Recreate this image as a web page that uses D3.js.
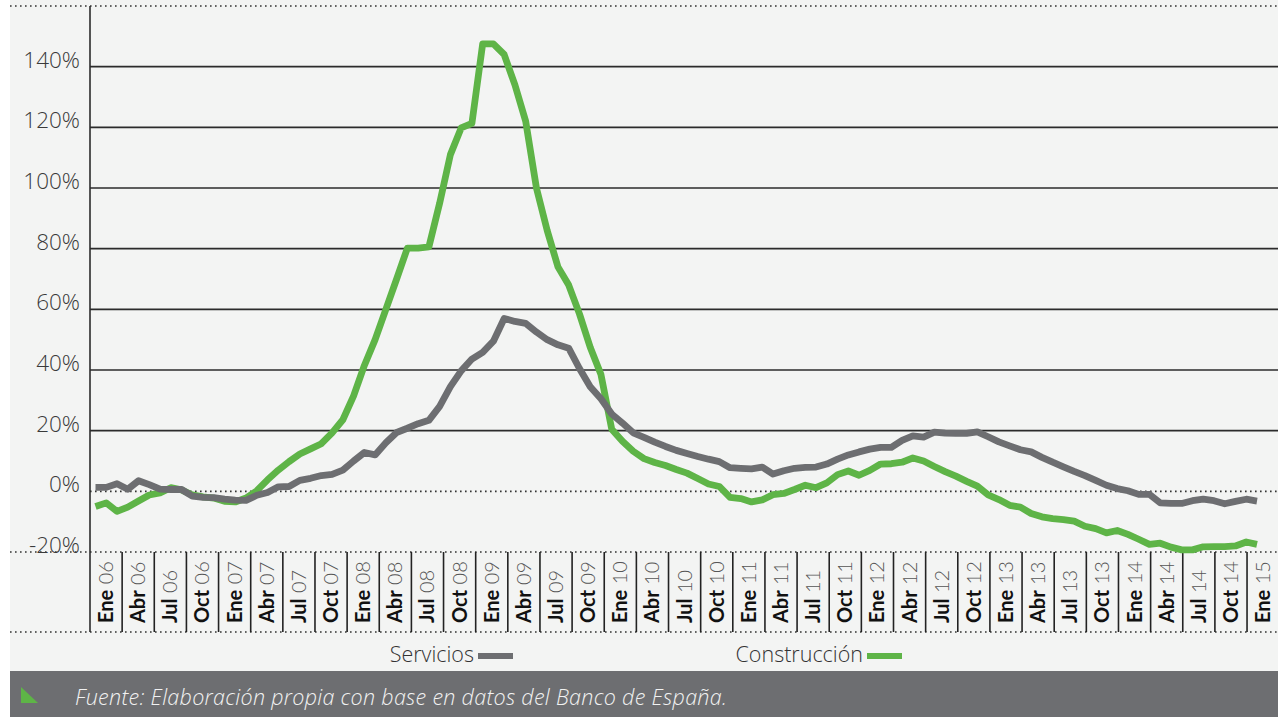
<!DOCTYPE html>
<html>
<head>
<meta charset="utf-8">
<script src="https://cdn.jsdelivr.net/npm/d3@7"></script>
<style>
  html, body { margin: 0; padding: 0; background: #ffffff; }
  svg { display: block; }
</style>
</head>
<body>
<div id="chart"></div>
<script>
// quarterly labels on the x axis
var tickLabels = [
  'Ene 06', 'Abr 06', 'Jul 06', 'Oct 06', 'Ene 07', 'Abr 07', 'Jul 07', 'Oct 07',
  'Ene 08', 'Abr 08', 'Jul 08', 'Oct 08', 'Ene 09', 'Abr 09', 'Jul 09', 'Oct 09',
  'Ene 10', 'Abr 10', 'Jul 10', 'Oct 10', 'Ene 11', 'Abr 11', 'Jul 11', 'Oct 11',
  'Ene 12', 'Abr 12', 'Jul 12', 'Oct 12', 'Ene 13', 'Abr 13', 'Jul 13', 'Oct 13',
  'Ene 14', 'Abr 14', 'Jul 14', 'Oct 14', 'Ene 15'
];

var yTicks = [-20, 0, 20, 40, 60, 80, 100, 120, 140];

// monthly values, Ene 06 .. Ene 15 (%)
var servicios = [
  1.3, 1.3, 2.5, 0.7, 3.5, 2.2, 0.7, 0.6, 0.6, -1.6, -2.0, -2.1,
  -2.6, -2.9, -3.0, -1.3, -0.4, 1.5, 1.6, 3.6, 4.3, 5.2, 5.6, 7.0,
  10.0, 12.8, 12.0, 16.0, 19.4, 20.8, 22.3, 23.4, 28.0, 34.5, 39.7, 43.6,
  45.8, 49.5, 57.0, 56.0, 55.4, 52.5, 50.0, 48.3, 47.2, 40.5, 34.5, 30.5,
  25.5, 22.5, 19.3, 17.8, 16.2, 14.8, 13.5, 12.5, 11.5, 10.6, 9.8, 7.8,
  7.6, 7.4, 8.0, 5.7, 6.8, 7.6, 7.9, 8.0, 9.0, 10.6, 12.0, 13.0,
  13.9, 14.5, 14.5, 16.8, 18.3, 17.9, 19.5, 19.2, 19.1, 19.1, 19.6, 18.0,
  16.3, 15.0, 13.7, 13.0, 11.2, 9.6, 8.1, 6.6, 5.2, 3.6, 2.0, 0.9,
  0.2, -1.0, -1.0, -3.8, -4.0, -4.0, -3.1, -2.6, -3.1, -4.1, -3.3, -2.6,
  -3.2
];

var construccion = [
  -5.0, -3.8, -6.6, -5.2, -3.2, -1.2, -0.5, 1.2, 0.5, -1.2, -1.8, -2.2,
  -3.3, -3.5, -2.2, 0.2, 3.8, 7.0, 9.8, 12.3, 14.0, 15.7, 19.3, 23.6,
  31.5, 41.5, 50.0, 60.0, 70.0, 80.2, 80.2, 80.6, 95.0, 111.0, 119.8, 121.3,
  147.5, 147.5, 144.0, 134.0, 122.0, 100.0, 86.0, 74.0, 68.0, 58.5, 47.5, 38.5,
  20.5, 16.5, 13.2, 10.8, 9.5, 8.5, 7.2, 6.0, 4.2, 2.4, 1.6, -2.0,
  -2.4, -3.5, -2.8, -1.1, -0.7, 0.6, 2.0, 1.2, 2.8, 5.5, 6.7, 5.3,
  6.9, 9.0, 9.1, 9.6, 11.0, 10.0, 8.2, 6.5, 5.0, 3.3, 1.7, -1.2,
  -2.7, -4.6, -5.2, -7.3, -8.4, -9.0, -9.3, -9.8, -11.5, -12.3, -13.7, -12.9,
  -14.2, -15.8, -17.5, -17.1, -18.4, -19.3, -19.3, -18.3, -18.2, -18.2, -18.0, -16.7,
  -17.5
];

var W = 1278, H = 717;
var gray = '#6d6e71', green = '#5eb447';
var plotLeft = 90, plotRight = 1278, panelLeft = 10;

var svg = d3.select('#chart').append('svg').attr('width', W).attr('height', H);

// background panel
svg.append('rect').attr('x', panelLeft).attr('y', 0).attr('width', W - panelLeft).attr('height', 671).attr('fill', '#f3f4f3');

var y = d3.scaleLinear().domain([-20, 160]).range([552, 6]);
var x = d3.scaleLinear().domain([0, 108]).range([95.5, 1257]);
var band = d3.scaleBand().domain(tickLabels).range([plotLeft, plotLeft + 37 * 32.14]);

// grid lines
yTicks.filter((t) => t > 0).forEach((t) => {
  svg.append('line')
    .attr('x1', plotLeft).attr('x2', plotRight)
    .attr('y1', y(t)).attr('y2', y(t))
    .attr('stroke', '#2b2b2b').attr('stroke-width', 1.6);
});

function dotted(x1, yy) {
  svg.append('line')
    .attr('x1', x1).attr('x2', plotRight)
    .attr('y1', yy).attr('y2', yy)
    .attr('stroke', '#333').attr('stroke-width', 1.6)
    .attr('stroke-dasharray', '1.6,3.4');
}
dotted(panelLeft, y(160));
dotted(plotLeft, y(0));
dotted(panelLeft, y(-20));
dotted(panelLeft, 632);

// y axis line
svg.append('line')
  .attr('x1', plotLeft).attr('x2', plotLeft)
  .attr('y1', y(160)).attr('y2', 632)
  .attr('stroke', '#2b2b2b').attr('stroke-width', 1.6);

// y labels
svg.selectAll('.ylab')
  .data(yTicks)
  .enter()
  .append('text')
  .attr('class', 'ylab')
  .attr('x', 80)
  .attr('y', (d) => y(d) + 1)
  .attr('text-anchor', 'end')
  .attr('font-family', 'Open Sans, sans-serif')
  .attr('font-weight', 300)
  .attr('font-size', 22.5)
  .attr('fill', '#3a3a3a')
  .text((d) => d + '%');

// x category separators
tickLabels.forEach((lab, i) => {
  if (i > 0) {
    svg.append('line')
      .attr('x1', band(lab)).attr('x2', band(lab))
      .attr('y1', y(-20)).attr('y2', 632)
      .attr('stroke', '#222').attr('stroke-width', 1.6);
  }
  var parts = lab.split(' ');
  var cx = band(lab) + band.bandwidth() / 2 + 7;
  var t = svg.append('text')
    .attr('transform', `translate(${cx},623) rotate(-90)`)
    .attr('font-family', 'Lato, sans-serif')
    .attr('font-size', 20);
  t.append('tspan').attr('font-weight', 700).attr('fill', '#111').text(parts[0]);
  t.append('tspan').attr('font-weight', 300).attr('fill', '#555').text(' ' + parts[1]);
});

// series
var line = d3.line()
  .x((d, i) => x(i))
  .y((d) => y(d));

svg.append('path')
  .datum(construccion)
  .attr('d', line)
  .attr('fill', 'none')
  .attr('stroke', green)
  .attr('stroke-width', 6.8)
  .attr('stroke-linejoin', 'round');

svg.append('path')
  .datum(servicios)
  .attr('d', line)
  .attr('fill', 'none')
  .attr('stroke', gray)
  .attr('stroke-width', 6.8)
  .attr('stroke-linejoin', 'round');

// legend
var legend = [
  { name: 'Servicios', color: gray, x: 474 },
  { name: 'Construcción', color: green, x: 863 }
];
legend.forEach((l) => {
  svg.append('text')
    .attr('x', l.x).attr('y', 662)
    .attr('text-anchor', 'end')
    .attr('font-family', 'Open Sans, sans-serif')
    .attr('font-weight', 300)
    .attr('font-size', 21.5)
    .attr('fill', '#333')
    .text(l.name);
  svg.append('rect')
    .attr('x', l.x + 4).attr('y', 653)
    .attr('width', 35).attr('height', 6)
    .attr('fill', l.color);
});

// footer
svg.append('rect').attr('x', panelLeft).attr('y', 671).attr('width', W - panelLeft).attr('height', H - 671).attr('fill', '#6d6e71');
svg.append('path').attr('d', 'M21,687 L21,703 L38,703 Z').attr('fill', green);
svg.append('text')
  .attr('x', 75).attr('y', 705)
  .attr('font-family', 'Open Sans, sans-serif')
  .attr('font-style', 'italic')
  .attr('font-weight', 300)
  .attr('font-size', 21.5)
  .attr('letter-spacing', 0.3)
  .attr('fill', '#f2f2f2')
  .text('Fuente: Elaboración propia con base en datos del Banco de España.');
</script>
</body>
</html>
